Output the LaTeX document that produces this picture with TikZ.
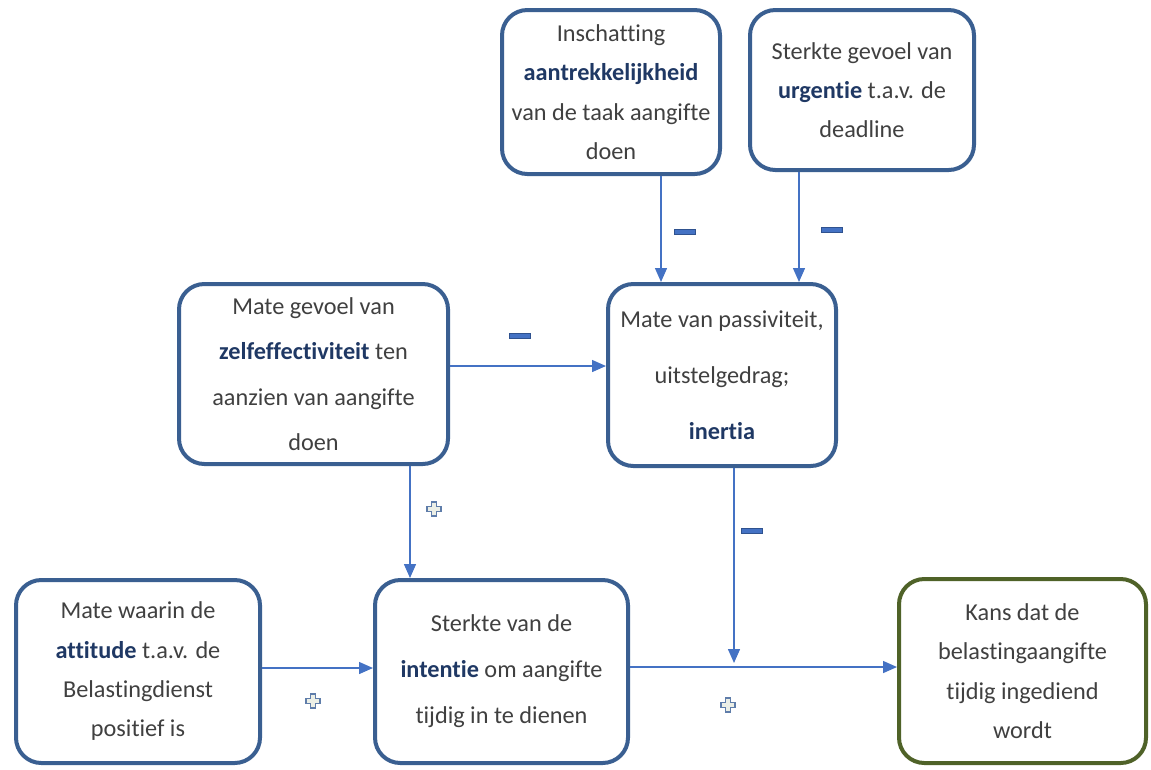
\documentclass[tikz,border=0pt]{standalone}
\usepackage{fontspec}
\setmainfont[Ligatures=CommonOff]{Carlito}
\usetikzlibrary{arrows.meta}
\definecolor{boxblue}{RGB}{58,95,145}
\definecolor{boxgreen}{RGB}{79,98,40}
\definecolor{arrblue}{RGB}{68,114,196}
\definecolor{navy}{RGB}{31,56,100}
\definecolor{textgray}{RGB}{64,64,64}
\definecolor{plusfill}{RGB}{236,239,230}
\definecolor{plusdraw}{RGB}{95,125,170}
\definecolor{minusdraw}{RGB}{47,82,143}

\tikzset{
  pics/plusmark/.style={code={
    \draw[fill=plusfill, draw=plusdraw, line width=0.9pt]
      (-2.5,-7) -- (2.5,-7) -- (2.5,-2.5) -- (7,-2.5) -- (7,2.5) -- (2.5,2.5) -- (2.5,7)
      -- (-2.5,7) -- (-2.5,2.5) -- (-7,2.5) -- (-7,-2.5) -- (-2.5,-2.5) -- cycle;
  }},
  pics/minusmark/.style={code={
    \draw[fill=arrblue, draw=minusdraw, line width=0.5pt] (-10.5,-2.5) rectangle (10.5,2.5);
  }}
}

\newcommand{\kw}[1]{\textbf{\color{navy}#1}}

\begin{document}
\begin{tikzpicture}[x=0.75pt,y=0.75pt,yscale=-1,xscale=1,
    box/.style={draw=boxblue, line width=3pt, rounded corners=19pt, fill=white,
      align=center, inner sep=0pt, text=textgray, font=\fontsize{18.2}{29.5}\selectfont},
    arr/.style={draw=arrblue, line width=1.1pt, -{Triangle[length=10.5pt,width=9pt]}}]
        \useasboundingbox (0,0) rectangle (1151,769);

        % Shape: Rounded boxes
        \node [box, minimum width=163.5pt, minimum height=123pt] (aantrek) at (611,92)
          {Inschatting\\ \kw{aantrekkelijkheid}\\ van de taak aangifte\\ doen};
        \node [box, minimum width=168pt, minimum height=120pt] (urgentie) at (862,90)
          {Sterkte gevoel van\\ \kw{urgentie} t.a.v. de\\ deadline};
        \node [box, minimum width=201.75pt, minimum height=135pt, font=\fontsize{18.2}{34}\selectfont] (zelfeff) at (313.5,374)
          {Mate gevoel van\\ \kw{zelfeffectiviteit} ten\\ aanzien van aangifte\\ doen};
        \node [box, minimum width=171pt, minimum height=136.5pt, font=\fontsize{18.2}{42}\selectfont] (inertia) at (722,375)
          {Mate van passiviteit,\\ uitstelgedrag;\\ \kw{inertia}};
        \node [box, minimum width=183pt, minimum height=137.25pt] (attitude) at (138,671.5)
          {Mate waarin de\\ \kw{attitude} t.a.v. de\\ Belastingdienst\\ positief is};
        \node [box, minimum width=189.75pt, minimum height=137.25pt, font=\fontsize{18.2}{34.5}\selectfont] (intentie) at (501.5,671.5)
          {Sterkte van de\\ \kw{intentie} om aangifte\\ tijdig in te dienen};
        \node [box, draw=boxgreen, minimum width=185.25pt, minimum height=138pt] (kans) at (1022.5,671)
          {Kans dat de\\ belastingaangifte\\ tijdig ingediend\\ wordt};

        % Helper coordinates for the connectors
        \coordinate (xa) at (661,0);
        \coordinate (xu) at (799,0);
        \coordinate (yz) at (0,366);
        \coordinate (xz) at (410,0);
        \coordinate (ya) at (0,668);
        \coordinate (yk) at (0,667);
        \coordinate (xi) at (734,0);
        \coordinate (join) at (734,663);

        % Connectors
        \draw [arr] (aantrek.south -| xa) -- (inertia.north -| xa);
        \draw [arr] (urgentie.south -| xu) -- (inertia.north -| xu);
        \draw [arr] (zelfeff.east |- yz) -- (inertia.west |- yz);
        \draw [arr] (zelfeff.south -| xz) -- (intentie.north -| xz);
        \draw [arr] (attitude.east |- ya) -- (intentie.west |- ya);
        \draw [arr] (intentie.east |- yk) -- (kans.west |- yk);
        \draw [arr] (inertia.south -| xi) -- (join);

        % Signs
        \pic at (685,232) {minusmark};
        \pic at (832,230) {minusmark};
        \pic at (520,336) {minusmark};
        \pic at (752,531) {minusmark};
        \pic at (434,509) {plusmark};
        \pic at (313,701) {plusmark};
        \pic at (728,705) {plusmark};

\end{tikzpicture}
\end{document}
